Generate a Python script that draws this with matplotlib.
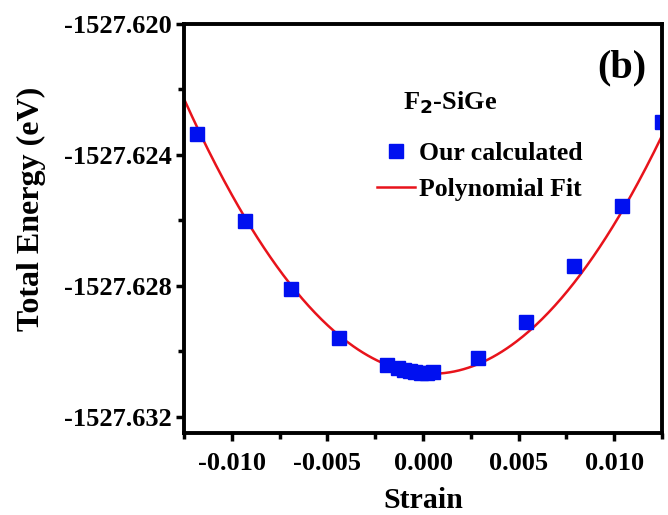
import numpy as np
import matplotlib.pyplot as plt
from matplotlib.ticker import MultipleLocator, FormatStrFormatter

# strain vs total energy
strain = [-0.0118, -0.0093, -0.0069, -0.0044, -0.0019, -0.0013, -0.0010, -0.0007,
          -0.0004, -0.0001, 0.0002, 0.0005, 0.0029, 0.0054, 0.0079, 0.0104, 0.01248]
energy = [-1527.62336, -1527.62602, -1527.62809, -1527.62959, -1527.63041, -1527.63052,
          -1527.63058, -1527.63062, -1527.63065, -1527.63066, -1527.63066, -1527.63065,
          -1527.63020, -1527.62910, -1527.62739, -1527.62556, -1527.62299]

# quadratic fit: E = a*(x - x0)^2 + emin
fit_a = 50.1
fit_x0 = 0.00045
fit_emin = -1527.63069

plt.rcParams['font.family'] = 'Liberation Serif'
plt.rcParams['font.weight'] = 'bold'
plt.rcParams['mathtext.default'] = 'bf'

fig = plt.figure(figsize=(6.68, 5.15), dpi=100)
ax = fig.add_axes([184/668, 1 - 433/515, (662-184)/668, (433-24)/515])

xf = np.linspace(-0.0125, 0.0125, 300)
ax.plot(xf, fit_a * (xf - fit_x0)**2 + fit_emin, color='#e8131b', lw=1.8,
        label='Polynomial Fit', zorder=2)
ax.plot(strain, energy, 's', color='#0010f0', ms=9.5, ls='none', label='Our calculated', zorder=3)

ax.set_xlim(-0.0125, 0.0125)
ax.set_ylim(-1527.6325, -1527.620)
ax.xaxis.set_major_locator(MultipleLocator(0.005))
ax.xaxis.set_minor_locator(MultipleLocator(0.0025))
ax.yaxis.set_major_locator(MultipleLocator(0.004))
ax.yaxis.set_minor_locator(MultipleLocator(0.002))
ax.xaxis.set_major_formatter(FormatStrFormatter('%.3f'))
ax.yaxis.set_major_formatter(FormatStrFormatter('%.3f'))

for s in ax.spines.values():
    s.set_linewidth(2.8)
    s.set_zorder(4)
ax.tick_params(which='major', direction='out', length=6, width=2.5, labelsize=19)
ax.tick_params(which='minor', direction='out', length=4, width=2.5)
ax.tick_params(axis='x', pad=8)
ax.tick_params(axis='y', pad=3)

ax.set_xlabel('Strain', fontsize=21.5, fontweight='bold', labelpad=8)
ax.set_ylabel('Total Energy (eV)', fontsize=23, fontweight='bold', labelpad=13)
ax.yaxis.label.set_y(0.548)

ax.text(0.967, 0.892, '(b)', transform=ax.transAxes, ha='right', va='center',
        fontsize=29, fontweight='bold')
fig.text(403/668, 1 - 109/515, 'F$_2$-SiGe', fontsize=19, fontweight='bold')

h, l = ax.get_legend_handles_labels()
ax.legend(h[::-1], l[::-1], loc='upper left', bbox_to_anchor=(367/668, 1 - 132/515),
          bbox_transform=fig.transFigure, borderaxespad=0, frameon=False,
          handlelength=1.48, handletextpad=0.15, labelspacing=0.5,
          prop={'weight': 'bold', 'size': 18.5})

fig.savefig('out.png', dpi=100)
